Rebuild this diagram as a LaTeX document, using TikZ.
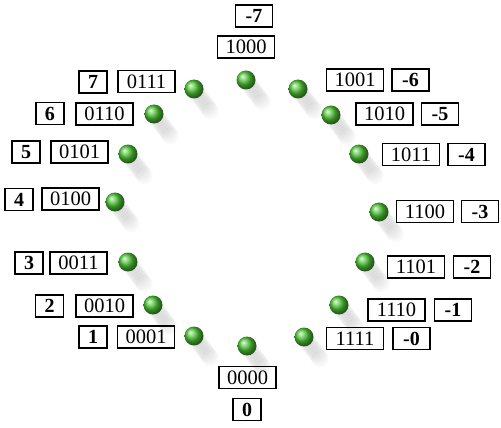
\documentclass[tikz,border=0pt]{standalone}
\usepackage{fontspec}
\setmainfont{Liberation Serif}
\usetikzlibrary{calc}
\definecolor{beadgreen}{RGB}{80,200,55}
\begin{document}
\begin{tikzpicture}[x=1pt,y=-1pt,
  bin/.style={draw, line width=1.1pt, minimum width=57pt, minimum height=22pt, inner sep=0pt, font=\fontsize{20.5}{20.5}\selectfont},
  numbox/.style={draw, line width=1.4pt, minimum height=22pt, inner sep=0pt, font=\fontsize{20}{20}\selectfont\bfseries},
  posbox/.style={numbox, minimum width=28pt},
  negbox/.style={numbox, minimum width=37pt},
  bead/.style={circle, minimum size=19pt, inner sep=0pt, shading=ball, ball color=beadgreen}]
\useasboundingbox[fill=white] (0,0) rectangle (501,428);
% shadows
\foreach \x/\y in {246/80, 298/89, 331/115, 359/154, 379/212, 365/262, 339/305, 304/337,
                   247/346, 194/336, 153/305, 128/262, 115/202, 128/154, 154/114, 194/89} {
  \foreach \i in {1,...,9} {
    \fill[black, opacity=0.022] (\x+\i*1.8, \y+\i*2.4) circle (8.5);
  }
}
% beads
\node[bead] (k1000) at (246,80) {};
\node[bead] (k1001) at (298,89) {};
\node[bead] (k1010) at (331,115) {};
\node[bead] (k1011) at (359,154) {};
\node[bead] (k1100) at (379,212) {};
\node[bead] (k1101) at (365,262) {};
\node[bead] (k1110) at (339,305) {};
\node[bead] (k1111) at (304,337) {};
\node[bead] (k0000) at (247,346) {};
\node[bead] (k0001) at (194,336) {};
\node[bead] (k0010) at (153,305) {};
\node[bead] (k0011) at (128,262) {};
\node[bead] (k0100) at (115,202) {};
\node[bead] (k0101) at (128,154) {};
\node[bead] (k0110) at (154,114) {};
\node[bead] (k0111) at (194,89) {};
% binary boxes
\node[bin] (b1000) at (246,47) {1000};
\node[bin] (b1001) at (355,80) {1001};
\node[bin] (b1010) at (384.5,114) {1010};
\node[bin] (b1011) at (411,154.5) {1011};
\node[bin] (b1100) at (425,211.5) {1100};
\node[bin] (b1101) at (416,267) {1101};
\node[bin] (b1110) at (396.5,310) {1110};
\node[bin] (b1111) at (355,338.5) {1111};
\node[bin] (b0000) at (247.5,377.5) {0000};
\node[bin] (b0001) at (146,337) {0001};
\node[bin] (b0010) at (104.5,306) {0010};
\node[bin] (b0011) at (78.5,263) {0011};
\node[bin] (b0100) at (70.5,199) {0100};
\node[bin] (b0101) at (79.5,152) {0101};
\node[bin] (b0110) at (104.5,114) {0110};
\node[bin] (b0111) at (146.5,81.5) {0111};
% value boxes
\node[negbox] (v1000) at (254,16) {-7};
\node[negbox] (v1001) at (410.5,80) {-6};
\node[negbox] (v1010) at (440,114) {-5};
\node[negbox] (v1011) at (466.5,154.5) {-4};
\node[negbox] (v1100) at (480,211.5) {-3};
\node[negbox] (v1101) at (472,267) {-2};
\node[negbox] (v1110) at (453,310) {-1};
\node[negbox] (v1111) at (411.5,338.5) {-0};
\node[posbox] (v0000) at (247,409.5) {0};
\node[posbox] (v0001) at (93,337) {1};
\node[posbox] (v0010) at (49.5,306) {2};
\node[posbox] (v0011) at (29,263) {3};
\node[posbox] (v0100) at (19,199.5) {4};
\node[posbox] (v0101) at (26,152) {5};
\node[posbox] (v0110) at (50,113.5) {6};
\node[posbox] (v0111) at (93,82) {7};
\end{tikzpicture}
\end{document}
